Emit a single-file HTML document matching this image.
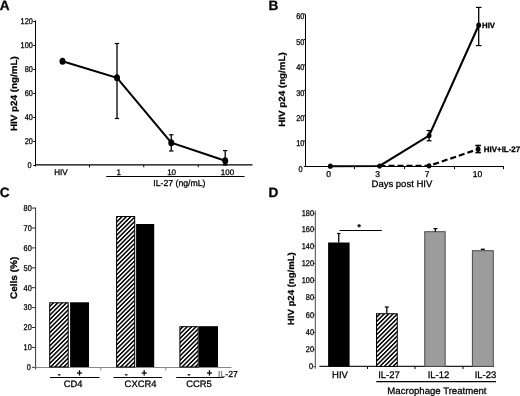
<!DOCTYPE html>
<html><head><meta charset="utf-8"><style>
html,body{margin:0;padding:0;background:#fff;}
svg{display:block;font-family:"Liberation Sans", sans-serif;}
text{stroke:#000;stroke-width:0.28px;text-rendering:geometricPrecision;}
</style></head><body>
<svg width="520" height="396" viewBox="0 0 520 396">
<defs>
<pattern id="hatch" patternUnits="userSpaceOnUse" width="3.1" height="3.1" patternTransform="rotate(45)">
<rect width="3.1" height="3.1" fill="#fff"/><rect width="1.5" height="3.1" fill="#000"/>
</pattern>
<filter id="bl" x="-5%" y="-5%" width="110%" height="110%"><feGaussianBlur stdDeviation="0.35"/></filter>
</defs>
<rect width="520" height="396" fill="#fff"/>
<g filter="url(#bl)">
<text transform="translate(-0.3,9.7) scale(1.0,1)" font-size="13.6" text-anchor="start" font-weight="bold">A</text>
<line x1="35.5" y1="20.5" x2="35.5" y2="166.5" stroke="#000" stroke-width="1"/>
<line x1="33.3" y1="165.5" x2="35.5" y2="165.5" stroke="#000" stroke-width="1"/>
<text transform="translate(31.7,168.2) scale(0.88,1)" font-size="8.4" text-anchor="end">0</text>
<line x1="33.3" y1="141.5" x2="35.5" y2="141.5" stroke="#000" stroke-width="1"/>
<text transform="translate(32.9,144.2) scale(0.88,1)" font-size="8.4" text-anchor="end">20</text>
<line x1="33.3" y1="117.5" x2="35.5" y2="117.5" stroke="#000" stroke-width="1"/>
<text transform="translate(32.9,120.2) scale(0.88,1)" font-size="8.4" text-anchor="end">40</text>
<line x1="33.3" y1="93.5" x2="35.5" y2="93.5" stroke="#000" stroke-width="1"/>
<text transform="translate(32.9,96.2) scale(0.88,1)" font-size="8.4" text-anchor="end">60</text>
<line x1="33.3" y1="69.5" x2="35.5" y2="69.5" stroke="#000" stroke-width="1"/>
<text transform="translate(32.9,72.2) scale(0.88,1)" font-size="8.4" text-anchor="end">80</text>
<line x1="33.3" y1="45.5" x2="35.5" y2="45.5" stroke="#000" stroke-width="1"/>
<text transform="translate(32.9,48.2) scale(0.88,1)" font-size="8.4" text-anchor="end">100</text>
<line x1="33.3" y1="21.5" x2="35.5" y2="21.5" stroke="#000" stroke-width="1"/>
<text transform="translate(32.9,24.2) scale(0.88,1)" font-size="8.4" text-anchor="end">120</text>
<line x1="35" y1="164.9" x2="252.5" y2="164.9" stroke="#000" stroke-width="1.3"/>
<line x1="89.5" y1="165" x2="89.5" y2="167.3" stroke="#000" stroke-width="1"/>
<line x1="143.75" y1="165" x2="143.75" y2="167.3" stroke="#000" stroke-width="1"/>
<line x1="198.25" y1="165" x2="198.25" y2="167.3" stroke="#000" stroke-width="1"/>
<polyline points="62.5,61.3 117,77.8 171.25,142.7 225.2,160.8" fill="none" stroke="#000" stroke-width="2"/>
<line x1="117" y1="43.5" x2="117" y2="118.5" stroke="#000" stroke-width="1.3"/>
<line x1="114.8" y1="43.5" x2="119.2" y2="43.5" stroke="#000" stroke-width="1.2"/>
<line x1="114.8" y1="118.5" x2="119.2" y2="118.5" stroke="#000" stroke-width="1.2"/>
<line x1="171.25" y1="134.75" x2="171.25" y2="151" stroke="#000" stroke-width="1.3"/>
<line x1="169.05" y1="134.75" x2="173.45" y2="134.75" stroke="#000" stroke-width="1.2"/>
<line x1="169.05" y1="151" x2="173.45" y2="151" stroke="#000" stroke-width="1.2"/>
<line x1="225.2" y1="150.6" x2="225.2" y2="165" stroke="#000" stroke-width="1.3"/>
<line x1="223.0" y1="150.6" x2="227.39999999999998" y2="150.6" stroke="#000" stroke-width="1.2"/>
<line x1="223.0" y1="165" x2="227.39999999999998" y2="165" stroke="#000" stroke-width="1.2"/>
<ellipse cx="62.5" cy="61.3" rx="3.0" ry="3.5" fill="#000"/>
<ellipse cx="117" cy="77.8" rx="3.0" ry="3.5" fill="#000"/>
<ellipse cx="171.25" cy="142.7" rx="3.0" ry="3.5" fill="#000"/>
<ellipse cx="225.2" cy="160.8" rx="3.0" ry="3.5" fill="#000"/>
<text transform="translate(60.8,175.0) scale(1.0,1)" font-size="8.0" text-anchor="middle">HIV</text>
<text transform="translate(118.7,175.0) scale(1.0,1)" font-size="8.0" text-anchor="middle">1</text>
<text transform="translate(171.6,175.0) scale(1.0,1)" font-size="8.0" text-anchor="middle">10</text>
<text transform="translate(227.5,175.0) scale(1.0,1)" font-size="8.0" text-anchor="middle">100</text>
<line x1="106.25" y1="176.5" x2="244.5" y2="176.5" stroke="#000" stroke-width="1"/>
<text transform="translate(179.4,185.8) scale(1.0,1)" font-size="8.7" text-anchor="middle">IL-27 (ng/mL)</text>
<text transform="translate(17.4,93.6) scale(0.92,1) rotate(-90)" font-size="9.85" text-anchor="middle" font-weight="bold">HIV p24 (ng/mL)</text>
<text transform="translate(268.5,9.8) scale(1.0,1)" font-size="13.6" text-anchor="start" font-weight="bold">B</text>
<line x1="305.5" y1="14.5" x2="305.5" y2="167" stroke="#000" stroke-width="1"/>
<line x1="303.8" y1="166.5" x2="305.5" y2="166.5" stroke="#000" stroke-width="1"/>
<text transform="translate(302.59999999999997,172.10000000000002) scale(0.88,1)" font-size="8.4" text-anchor="end">0</text>
<line x1="303.8" y1="141.1" x2="305.5" y2="141.1" stroke="#000" stroke-width="1"/>
<text transform="translate(304.4,146.4) scale(0.88,1)" font-size="8.4" text-anchor="end">10</text>
<line x1="303.8" y1="115.7" x2="305.5" y2="115.7" stroke="#000" stroke-width="1"/>
<text transform="translate(304.4,121.0) scale(0.88,1)" font-size="8.4" text-anchor="end">20</text>
<line x1="303.8" y1="90.30000000000001" x2="305.5" y2="90.30000000000001" stroke="#000" stroke-width="1"/>
<text transform="translate(304.4,95.60000000000001) scale(0.88,1)" font-size="8.4" text-anchor="end">30</text>
<line x1="303.8" y1="64.9" x2="305.5" y2="64.9" stroke="#000" stroke-width="1"/>
<text transform="translate(304.4,70.2) scale(0.88,1)" font-size="8.4" text-anchor="end">40</text>
<line x1="303.8" y1="39.5" x2="305.5" y2="39.5" stroke="#000" stroke-width="1"/>
<text transform="translate(304.4,44.8) scale(0.88,1)" font-size="8.4" text-anchor="end">50</text>
<line x1="303.8" y1="14.100000000000023" x2="305.5" y2="14.100000000000023" stroke="#000" stroke-width="1"/>
<text transform="translate(304.4,19.400000000000023) scale(0.88,1)" font-size="8.4" text-anchor="end">60</text>
<line x1="305" y1="166.5" x2="504" y2="166.5" stroke="#000" stroke-width="1.1"/>
<line x1="354.5" y1="166.5" x2="354.5" y2="169.2" stroke="#000" stroke-width="1"/>
<line x1="404.5" y1="166.5" x2="404.5" y2="169.2" stroke="#000" stroke-width="1"/>
<line x1="454.5" y1="166.5" x2="454.5" y2="169.2" stroke="#000" stroke-width="1"/>
<line x1="503.5" y1="166.5" x2="503.5" y2="169.2" stroke="#000" stroke-width="1"/>
<polyline points="379.5,166 429,165.8 478.1,149.2" fill="none" stroke="#000" stroke-width="2.2" stroke-dasharray="6,3"/>
<polyline points="330.3,166.2 379.6,166 429.1,135.6 478.7,25.2" fill="none" stroke="#000" stroke-width="2.1"/>
<line x1="429.1" y1="130.5" x2="429.1" y2="140.8" stroke="#000" stroke-width="1.3"/>
<line x1="426.6" y1="130.5" x2="431.6" y2="130.5" stroke="#000" stroke-width="1.2"/>
<line x1="426.6" y1="140.8" x2="431.6" y2="140.8" stroke="#000" stroke-width="1.2"/>
<line x1="478.7" y1="7.4" x2="478.7" y2="45.6" stroke="#000" stroke-width="1.3"/>
<line x1="475.9" y1="7.4" x2="481.5" y2="7.4" stroke="#000" stroke-width="1.2"/>
<line x1="475.9" y1="45.6" x2="481.5" y2="45.6" stroke="#000" stroke-width="1.2"/>
<line x1="478.1" y1="145.5" x2="478.1" y2="152.6" stroke="#000" stroke-width="1.6"/>
<line x1="475.3" y1="145.5" x2="480.90000000000003" y2="145.5" stroke="#000" stroke-width="1.6"/>
<line x1="475.3" y1="152.6" x2="480.90000000000003" y2="152.6" stroke="#000" stroke-width="1.6"/>
<ellipse cx="330.3" cy="166.2" rx="2.4" ry="2.6" fill="#000"/>
<ellipse cx="379.6" cy="166" rx="2.4" ry="2.6" fill="#000"/>
<ellipse cx="429.1" cy="135.6" rx="2.4" ry="2.6" fill="#000"/>
<ellipse cx="478.7" cy="25.2" rx="2.4" ry="2.6" fill="#000"/>
<ellipse cx="429" cy="165.8" rx="2.4" ry="2.6" fill="#000"/>
<ellipse cx="478.1" cy="149.2" rx="2.4" ry="2.6" fill="#000"/>
<text transform="translate(328.5,176.6) scale(1.0,1)" font-size="8.5" text-anchor="middle">0</text>
<text transform="translate(377.7,176.6) scale(1.0,1)" font-size="8.5" text-anchor="middle">3</text>
<text transform="translate(427,176.6) scale(1.0,1)" font-size="8.5" text-anchor="middle">7</text>
<text transform="translate(477.5,176.6) scale(1.0,1)" font-size="8.5" text-anchor="middle">10</text>
<text transform="translate(401.9,186.5) scale(1.0,1)" font-size="9.5" text-anchor="middle">Days post HIV</text>
<text transform="translate(482,28.0) scale(1.0,1)" font-size="7.8" text-anchor="start" font-weight="bold">HIV</text>
<text transform="translate(483.8,152.3) scale(1.0,1)" font-size="7.95" text-anchor="start" font-weight="bold">HIV+IL-27</text>
<text transform="translate(284.6,89.5) scale(0.92,1) rotate(-90)" font-size="9.8" text-anchor="middle" font-weight="bold">HIV p24 (ng/mL)</text>
<text transform="translate(-0.2,197.2) scale(1.0,1)" font-size="13.6" text-anchor="start" font-weight="bold">C</text>
<line x1="35.6" y1="207.5" x2="35.6" y2="369.5" stroke="#333" stroke-width="1"/>
<line x1="32" y1="367.3" x2="35.6" y2="367.3" stroke="#333" stroke-width="1"/>
<text transform="translate(30.8,370.1) scale(0.88,1)" font-size="8.4" text-anchor="end">0</text>
<line x1="32" y1="347.40000000000003" x2="35.6" y2="347.40000000000003" stroke="#333" stroke-width="1"/>
<text transform="translate(31.8,350.20000000000005) scale(0.88,1)" font-size="8.4" text-anchor="end">10</text>
<line x1="32" y1="327.5" x2="35.6" y2="327.5" stroke="#333" stroke-width="1"/>
<text transform="translate(31.8,330.3) scale(0.88,1)" font-size="8.4" text-anchor="end">20</text>
<line x1="32" y1="307.6" x2="35.6" y2="307.6" stroke="#333" stroke-width="1"/>
<text transform="translate(31.8,310.40000000000003) scale(0.88,1)" font-size="8.4" text-anchor="end">30</text>
<line x1="32" y1="287.70000000000005" x2="35.6" y2="287.70000000000005" stroke="#333" stroke-width="1"/>
<text transform="translate(31.8,290.50000000000006) scale(0.88,1)" font-size="8.4" text-anchor="end">40</text>
<line x1="32" y1="267.8" x2="35.6" y2="267.8" stroke="#333" stroke-width="1"/>
<text transform="translate(31.8,270.6) scale(0.88,1)" font-size="8.4" text-anchor="end">50</text>
<line x1="32" y1="247.90000000000003" x2="35.6" y2="247.90000000000003" stroke="#333" stroke-width="1"/>
<text transform="translate(31.8,250.70000000000005) scale(0.88,1)" font-size="8.4" text-anchor="end">60</text>
<line x1="32" y1="228.00000000000003" x2="35.6" y2="228.00000000000003" stroke="#333" stroke-width="1"/>
<text transform="translate(31.8,230.80000000000004) scale(0.88,1)" font-size="8.4" text-anchor="end">70</text>
<line x1="32" y1="208.10000000000002" x2="35.6" y2="208.10000000000002" stroke="#333" stroke-width="1"/>
<text transform="translate(31.8,210.90000000000003) scale(0.88,1)" font-size="8.4" text-anchor="end">80</text>
<line x1="35.5" y1="367.5" x2="231.5" y2="367.5" stroke="#888" stroke-width="1"/>
<line x1="100.8" y1="367.5" x2="100.8" y2="370.3" stroke="#888" stroke-width="1"/>
<line x1="165.8" y1="367.5" x2="165.8" y2="370.3" stroke="#888" stroke-width="1"/>
<rect x="70.1" y="302.3" width="18.900000000000006" height="64.69999999999999" fill="#000"/>
<rect x="136.1" y="224" width="18.099999999999994" height="143" fill="#000"/>
<rect x="198.9" y="326.2" width="19.099999999999994" height="40.80000000000001" fill="#000"/>
<text transform="translate(59.3,376.5) scale(1.0,1)" font-size="8.7" text-anchor="middle" font-weight="bold">-</text>
<text transform="translate(126.2,376.5) scale(1.0,1)" font-size="8.7" text-anchor="middle" font-weight="bold">-</text>
<text transform="translate(189,376.5) scale(1.0,1)" font-size="8.7" text-anchor="middle" font-weight="bold">-</text>
<text transform="translate(79.5,376.0) scale(1.0,1)" font-size="9.4" text-anchor="middle" font-weight="bold">+</text>
<text transform="translate(144.2,376.0) scale(1.0,1)" font-size="9.4" text-anchor="middle" font-weight="bold">+</text>
<text transform="translate(209.4,376.0) scale(1.0,1)" font-size="9.4" text-anchor="middle" font-weight="bold">+</text>
<line x1="50" y1="377.5" x2="99.5" y2="377.5" stroke="#000" stroke-width="1"/>
<line x1="113.5" y1="377.5" x2="162" y2="377.5" stroke="#000" stroke-width="1"/>
<line x1="176.25" y1="377.5" x2="223.75" y2="377.5" stroke="#000" stroke-width="1"/>
<text transform="translate(73.2,386.6) scale(1.0,1)" font-size="9.4" text-anchor="middle">CD4</text>
<text transform="translate(140.5,386.6) scale(1.0,1)" font-size="9.4" text-anchor="middle">CXCR4</text>
<text transform="translate(199,386.6) scale(1.0,1)" font-size="9.4" text-anchor="middle">CCR5</text>
<text x="218" y="376.8" font-size="8.7"><tspan fill="#777" stroke="#777">IL</tspan>-27</text>
<text transform="translate(16.6,277.9) scale(0.95,1) rotate(-90)" font-size="10.0" text-anchor="middle" font-weight="bold">Cells (%)</text>
<text transform="translate(268.5,197.2) scale(1.0,1)" font-size="13.6" text-anchor="start" font-weight="bold">D</text>
<line x1="315.3" y1="210.6" x2="315.3" y2="368.7" stroke="#444" stroke-width="1"/>
<line x1="312.8" y1="366.6" x2="315.3" y2="366.6" stroke="#555" stroke-width="1"/>
<text transform="translate(313.1,369.3) scale(0.88,1)" font-size="8.4" text-anchor="end">0</text>
<line x1="312.8" y1="349.6" x2="315.3" y2="349.6" stroke="#555" stroke-width="1"/>
<text transform="translate(314.0,352.3) scale(0.88,1)" font-size="8.4" text-anchor="end">20</text>
<line x1="312.8" y1="332.5" x2="315.3" y2="332.5" stroke="#555" stroke-width="1"/>
<text transform="translate(314.0,335.2) scale(0.88,1)" font-size="8.4" text-anchor="end">40</text>
<line x1="312.8" y1="315" x2="315.3" y2="315" stroke="#555" stroke-width="1"/>
<text transform="translate(314.0,317.7) scale(0.88,1)" font-size="8.4" text-anchor="end">60</text>
<line x1="312.8" y1="297.6" x2="315.3" y2="297.6" stroke="#555" stroke-width="1"/>
<text transform="translate(314.0,300.3) scale(0.88,1)" font-size="8.4" text-anchor="end">80</text>
<line x1="312.8" y1="280.3" x2="315.3" y2="280.3" stroke="#555" stroke-width="1"/>
<text transform="translate(314.0,283.0) scale(0.88,1)" font-size="8.4" text-anchor="end">100</text>
<line x1="312.8" y1="263.5" x2="315.3" y2="263.5" stroke="#555" stroke-width="1"/>
<text transform="translate(314.0,266.2) scale(0.88,1)" font-size="8.4" text-anchor="end">120</text>
<line x1="312.8" y1="246.1" x2="315.3" y2="246.1" stroke="#555" stroke-width="1"/>
<text transform="translate(314.0,248.79999999999998) scale(0.88,1)" font-size="8.4" text-anchor="end">140</text>
<line x1="312.8" y1="229.2" x2="315.3" y2="229.2" stroke="#555" stroke-width="1"/>
<text transform="translate(314.0,231.89999999999998) scale(0.88,1)" font-size="8.4" text-anchor="end">160</text>
<line x1="312.8" y1="213.6" x2="315.3" y2="213.6" stroke="#555" stroke-width="1"/>
<text transform="translate(314.0,216.29999999999998) scale(0.88,1)" font-size="8.4" text-anchor="end">180</text>
<line x1="319.4" y1="366.4" x2="494" y2="366.4" stroke="#222" stroke-width="1.1"/>
<line x1="367.5" y1="366.5" x2="367.5" y2="369" stroke="#000" stroke-width="1"/>
<line x1="415" y1="366.5" x2="415" y2="369" stroke="#000" stroke-width="1"/>
<line x1="463" y1="366.5" x2="463" y2="369" stroke="#000" stroke-width="1"/>
<rect x="328.1" y="242.5" width="21.5" height="124.0" fill="#000"/>
<rect x="424.75" y="231.7" width="20.4" height="134.7" fill="#9c9c9c" stroke="#4a4a4a" stroke-width="1"/>
<rect x="472.4" y="250.7" width="20.9" height="115.7" fill="#9c9c9c" stroke="#4a4a4a" stroke-width="1"/>
<line x1="338.75" y1="233.5" x2="338.75" y2="242.5" stroke="#000" stroke-width="1.3"/>
<line x1="337.05" y1="233.5" x2="340.45" y2="233.5" stroke="#000" stroke-width="1.2"/>
<line x1="386.8" y1="307" x2="386.8" y2="313.5" stroke="#000" stroke-width="1.3"/>
<line x1="384.8" y1="307" x2="388.8" y2="307" stroke="#000" stroke-width="1.2"/>
<line x1="435.4" y1="228.6" x2="435.4" y2="231.7" stroke="#000" stroke-width="1.3"/>
<line x1="433.4" y1="228.6" x2="437.4" y2="228.6" stroke="#000" stroke-width="1.2"/>
<line x1="480.8" y1="249.3" x2="484.8" y2="249.3" stroke="#000" stroke-width="1.4"/>
<line x1="339.5" y1="230.5" x2="381.75" y2="230.5" stroke="#000" stroke-width="1"/>
<text transform="translate(359.1,229.8) scale(1.0,1)" font-size="8.5" text-anchor="middle" font-weight="bold">*</text>
<text transform="translate(340,378.2) scale(1.0,1)" font-size="9.5" text-anchor="middle">HIV</text>
<text transform="translate(389,378.2) scale(1.0,1)" font-size="9.5" text-anchor="middle">IL-27</text>
<text transform="translate(438.5,378.2) scale(1.0,1)" font-size="9.5" text-anchor="middle">IL-12</text>
<text transform="translate(485.5,378.2) scale(1.0,1)" font-size="9.5" text-anchor="middle">IL-23</text>
<line x1="376.25" y1="381.6" x2="496" y2="381.6" stroke="#000" stroke-width="1.2"/>
<text transform="translate(436.9,393.5) scale(1.0,1)" font-size="9.6" text-anchor="middle">Macrophage Treatment</text>
<text transform="translate(293.5,288.7) scale(0.92,1) rotate(-90)" font-size="9.6" text-anchor="middle" font-weight="bold">HIV p24 (ng/mL)</text>
</g>
<g>
<rect x="49.7" y="302.8" width="18.5" height="64.19999999999999" fill="url(#hatch)" stroke="#000" stroke-width="1"/>
<rect x="116.6" y="216.5" width="18.099999999999994" height="150.5" fill="url(#hatch)" stroke="#000" stroke-width="1"/>
<rect x="179.9" y="326.7" width="18.299999999999983" height="40.30000000000001" fill="url(#hatch)" stroke="#000" stroke-width="1"/>
<rect x="376.5" y="313.75" width="20.75" height="52.75" fill="url(#hatch)" stroke="#000" stroke-width="1"/>
</g>
</svg>
</body></html>
